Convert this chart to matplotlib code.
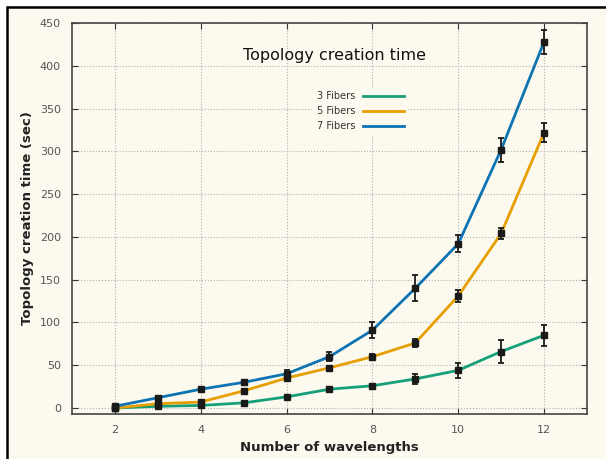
import matplotlib.pyplot as plt
from matplotlib.patches import Rectangle
from matplotlib.lines import Line2D

# data
wavelengths = [2, 3, 4, 5, 6, 7, 8, 9, 10, 11, 12]
fib3 = [0, 2, 3, 6, 13, 22, 26, 34, 44, 66, 85]
fib3_err = [1, 1, 1, 1, 1.5, 2, 2, 6, 8.5, 13, 12.5]
fib5 = [0, 5, 7, 20, 35, 47, 60, 76, 131, 204, 322]
fib5_err = [1, 1, 1.5, 2, 2, 2, 3, 5, 7, 6, 11]
fib7 = [2, 12, 22, 30, 40, 60, 91, 140, 192, 302, 428]
fib7_err = [2, 2, 2, 2, 4, 5, 9, 15, 10, 14, 14]

labels = ['3 Fibers', '5 Fibers', '7 Fibers']
colors = ['#15a07a', '#e69f00', '#0d73b3']
bg = '#fcf9ee'

fig = plt.figure(figsize=(6.06, 4.59), dpi=100)
fig.patch.set_facecolor('white')
# cream panel, black frame only on left/top (cropped screenshot look)
fig.patches.append(Rectangle((7 / 606, 0), 1, 1 - 7 / 459,
                             transform=fig.transFigure, facecolor=bg,
                             edgecolor='none', zorder=-5))
fig.lines.append(Line2D([7 / 606, 7 / 606, 1], [0, 1 - 7 / 459, 1 - 7 / 459],
                        transform=fig.transFigure, color='black', lw=1.8,
                        solid_joinstyle='miter', zorder=-4))

ax = fig.add_axes([72 / 606, 1 - 414 / 459, 515 / 606, 391 / 459])
ax.set_facecolor(bg)

for y, err, c, lab in zip([fib3, fib5, fib7], [fib3_err, fib5_err, fib7_err], colors, labels):
    ax.plot(wavelengths, y, color=c, lw=2, label=lab, zorder=3)
    ax.errorbar(wavelengths, y, yerr=err, fmt='s', color='#1a1a1a', ms=4,
                capsize=2.5, elinewidth=1.3, capthick=1.3, zorder=4)

ax.set_xlim(1, 13)
ax.set_ylim(-7, 450)
ax.set_xticks([2, 4, 6, 8, 10, 12])
ax.set_yticks(range(0, 451, 50))
ax.grid(True, ls=':', color='#b0b0b0', lw=0.8)
ax.tick_params(direction='in', top=True, right=True, length=4, labelsize=8,
               labelcolor='#555555', color='#333333', pad=8)
for s in ax.spines.values():
    s.set_color('#444444')
    s.set_linewidth(1.2)

ax.set_xlabel('Number of wavelengths', fontsize=9.5, fontweight='bold', color='#222222')
ax.set_ylabel('Topology creation time (sec)', fontsize=9.5, fontweight='bold', color='#222222')

ax.text(0.51, 0.918, 'Topology creation time', transform=ax.transAxes,
        ha='center', va='center', fontsize=11.5, color='#111111')

leg = ax.legend(loc='upper right', bbox_to_anchor=(0.652, 0.835), fontsize=7,
                markerfirst=False, frameon=True, facecolor=bg, edgecolor='none',
                framealpha=1, handlelength=4.2, labelspacing=0.5,
                borderaxespad=0, handletextpad=0.8)
for t in leg.get_texts():
    t.set_color('#333333')

fig.savefig('out.png', dpi=100, facecolor=fig.get_facecolor())
